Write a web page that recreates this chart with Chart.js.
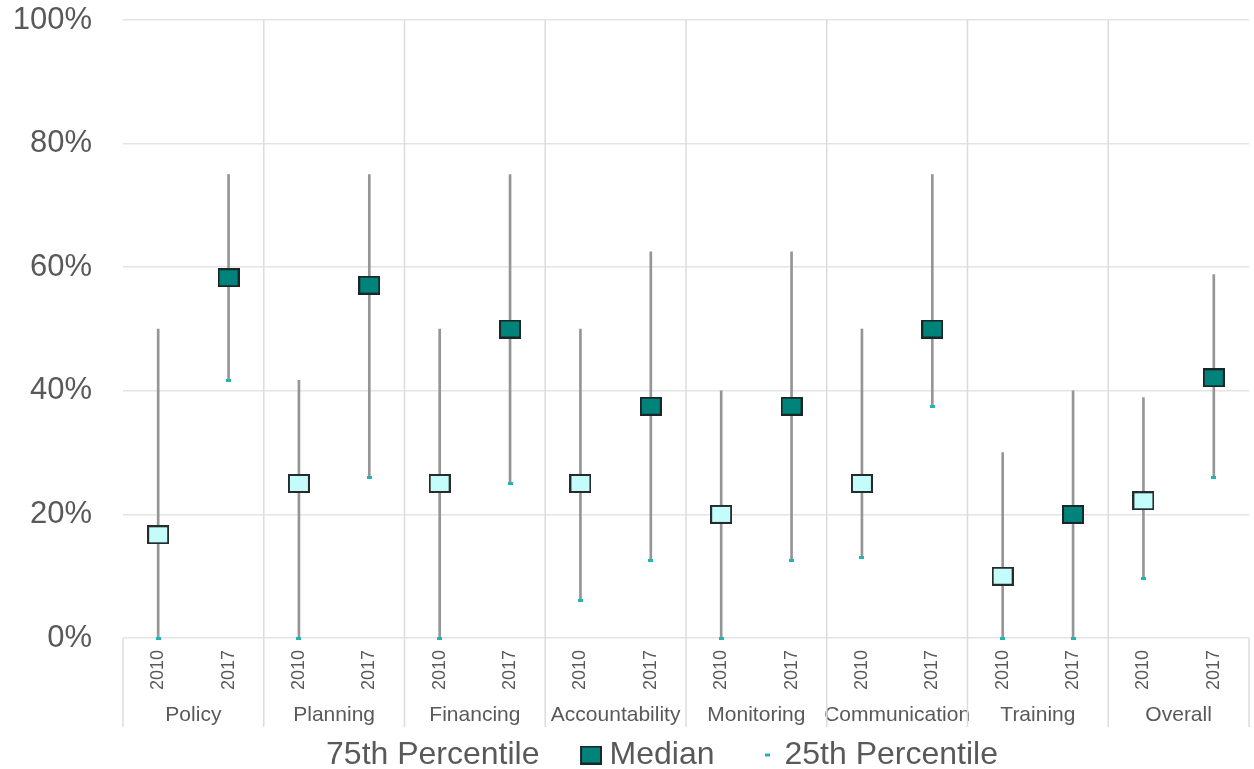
<!DOCTYPE html>
<html>
<head>
<meta charset="utf-8">
<title>Median scores 2010 vs 2017</title>
<script src="https://cdn.jsdelivr.net/npm/chart.js@4/dist/chart.umd.min.js"></script>
<style>
    html, body { margin: 0; padding: 0; background: #ffffff; }
    #wrap { width: 1254px; height: 769px; }
</style>
</head>
<body>
<div id="wrap"><canvas id="scoreChart"></canvas></div>
<script>
// Chart data, one value per group and year (2010, 2017, 2010, 2017 ...)
var groups = ['Policy', 'Planning', 'Financing', 'Accountability', 'Monitoring', 'Communication', 'Training', 'Overall'];
var years = ['2010', '2017'];
var median = [16.7, 58.3, 25, 57.1, 25, 50, 25, 37.5, 20, 37.5, 25, 50, 10, 20, 22.2, 42.1];
var p75 = [50, 75, 41.7, 75, 50, 75, 50, 62.5, 40, 62.5, 50, 75, 30, 40, 38.9, 58.8];
var p25 = [0, 41.7, 0, 26, 0, 25, 6, 12.5, 0, 12.5, 13, 37.5, 0, 0, 9.6, 26];
var yTicks = [0, 20, 40, 60, 80, 100];

var labels = [];
groups.forEach(function () {
    years.forEach(function (y) { labels.push(y); });
});

// high-low line from 25th to 75th percentile
var ranges = p25.map(function (lo, i) { return [lo, p75[i]]; });

// small canvases used as point markers
// (w, h) canvas size, the coloured block is drawn at its right side
function marker(w, h, bw, bh, inset, fill, line) {
    var c = document.createElement('canvas');
    c.width = w;
    c.height = h;
    var g = c.getContext('2d');
    var x0 = w - bw - inset;
    var y0 = Math.round((h - bh) / 2);
    g.fillStyle = fill;
    g.fillRect(x0, y0, bw, bh);
    if (line) {
        g.strokeStyle = line;
        g.lineWidth = 2;
        g.strokeRect(x0 + 1, y0 + 1, bw - 2, bh - 2);
    }
    return c;
}
var lightBox = marker(22, 19, 22, 19, 0, '#c4fbfb', '#262c2c');
var darkBox = marker(22, 19, 22, 19, 0, '#00837b', '#1b2626');
var dash = marker(5, 3, 5, 3, 0, '#1fb4b8');

// legend versions, padded on the left to space the items
var legendBlank = marker(67, 19, 1, 1, 0, 'rgba(0,0,0,0)');
var legendBox = marker(67, 19, 22, 19, 0, '#00837b', '#1b2626');
var legendDash = marker(67, 19, 5, 3, 7, '#1fb4b8');

Chart.defaults.font.family = "'Liberation Sans', Arial, sans-serif";
Chart.defaults.color = '#595959';

function noPad(axis) {
    axis.paddingLeft = 0;
    axis.paddingRight = 0;
    axis.paddingTop = 0;
    axis.paddingBottom = 0;
}

// Vertical separators between the groups
var groupLines = {
    id: 'groupLines',
    beforeDatasetsDraw: function (chart) {
        var x = chart.scales.x;
        var xg = chart.scales.xg;
        var area = chart.chartArea;
        var ctx = chart.ctx;
        var step = x.getPixelForValue(1) - x.getPixelForValue(0);
        ctx.save();
        ctx.strokeStyle = '#dcdcdc';
        ctx.lineWidth = 1.5;
        for (var i = 0; i <= groups.length; i++) {
            var px = x.getPixelForValue(i * 2) - step / 2;
            var top = (i > 0 && i < groups.length) ? area.top : area.bottom;
            ctx.beginPath();
            ctx.moveTo(px, top);
            ctx.lineTo(px, xg.bottom - 8);
            ctx.stroke();
        }
        ctx.restore();
    }
};

var ctx = document.getElementById('scoreChart').getContext('2d');
var scoreChart = new Chart(ctx, {
    data: {
        labels: labels,
        datasets: [{
            type: 'line',
            label: '75th Percentile',
            data: p75,
            showLine: false,
            pointRadius: 0,
            pointHoverRadius: 0
        }, {
            type: 'line',
            label: 'Median',
            data: median,
            showLine: false,
            clip: false,
            pointStyle: labels.map(function (l, i) { return i % 2 ? darkBox : lightBox; })
        }, {
            type: 'line',
            label: '25th Percentile',
            data: p25,
            showLine: false,
            clip: false,
            pointStyle: dash
        }, {
            type: 'bar',
            label: 'range',
            data: ranges,
            backgroundColor: '#959595',
            barThickness: 2,
            order: 10
        }]
    },
    options: {
        responsive: true,
        maintainAspectRatio: false,
        animation: false,
        layout: { padding: { top: 20, left: 0, right: -4, bottom: -12 } },
        scales: {
            x: {
                type: 'category',
                offset: true,
                grid: { display: false, drawTicks: false },
                border: { display: false },
                ticks: {
                    autoSkip: false,
                    minRotation: 90,
                    maxRotation: 90,
                    padding: 12,
                    font: { size: 18 }
                },
                afterFit: function (axis) {
                    noPad(axis);
                    axis.height = 58;
                }
            },
            xg: {
                type: 'category',
                labels: groups,
                position: 'bottom',
                offset: true,
                grid: { display: false, drawTicks: false },
                border: { display: false },
                ticks: {
                    autoSkip: false,
                    minRotation: 0,
                    maxRotation: 0,
                    padding: 7,
                    font: { size: 21 }
                },
                afterFit: function (axis) {
                    noPad(axis);
                    axis.height = 39;
                }
            },
            y: {
                min: 0,
                max: 100,
                afterBuildTicks: function (axis) {
                    axis.ticks = yTicks.map(function (v) { return { value: v }; });
                },
                grid: { color: '#e4e4e4', lineWidth: 1.5, drawTicks: false },
                border: { display: false },
                ticks: {
                    padding: 31,
                    font: { size: 31 },
                    callback: function (v) { return v + '%'; }
                },
                afterFit: function (axis) {
                    noPad(axis);
                    axis.width = 123;
                }
            }
        },
        plugins: {
            tooltip: { enabled: false },
            legend: {
                position: 'bottom',
                labels: {
                    usePointStyle: true,
                    pointStyleWidth: 50,
                    boxHeight: 22,
                    padding: 4,
                    font: { size: 32 },
                    color: '#595959',
                    generateLabels: function (chart) {
                        var items = Chart.defaults.plugins.legend.labels.generateLabels(chart);
                        var styles = [legendBlank, legendBox, legendDash];
                        items = items.filter(function (it) { return it.datasetIndex < 3; });
                        items.forEach(function (it) { it.pointStyle = styles[it.datasetIndex]; });
                        return items;
                    }
                }
            }
        }
    },
    plugins: [groupLines]
});
</script>
</body>
</html>
